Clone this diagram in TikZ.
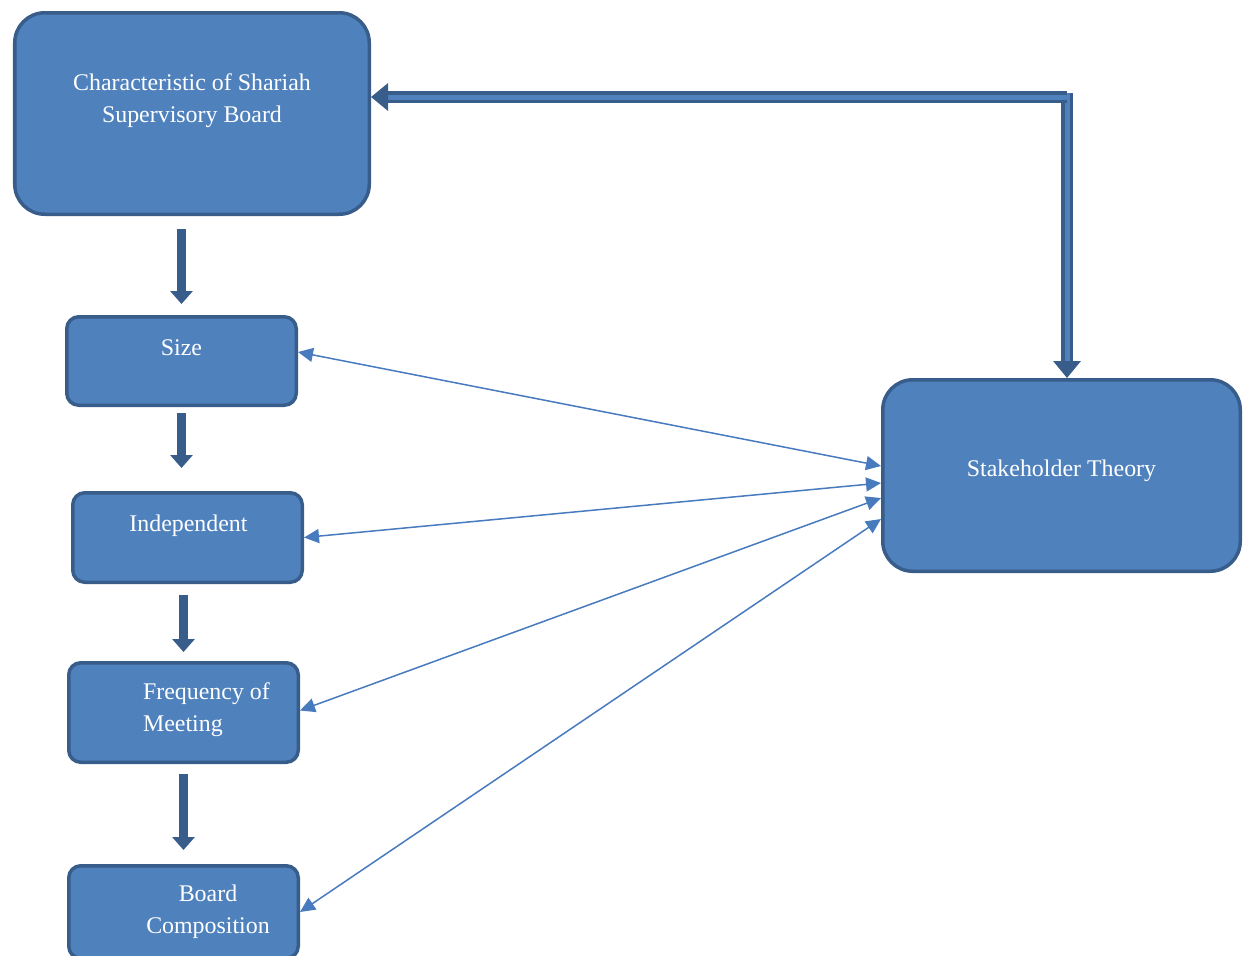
\documentclass[tikz,border=0pt]{standalone}
\usepackage{fontspec}
\setmainfont{Liberation Serif}
\usetikzlibrary{arrows.meta, positioning}
\definecolor{boxfill}{RGB}{79, 129, 189}
\definecolor{boxborder}{RGB}{56, 93, 138}
\definecolor{linkcolor}{RGB}{72, 122, 190}
\tikzset{
  box/.style={rectangle, draw=boxborder, fill=boxfill, line width=0.07cm},
  bigbox/.style={box, rounded corners=0.6cm},
  smallbox/.style={box, rounded corners=0.24cm, minimum width=4.59cm},
  boxtext/.style={text=white, font=\fontsize{13.6}{18.2}\selectfont, align=center},
  downarr/.style={-{Triangle[length=0.26cm, width=0.44cm]}, line width=0.19cm, draw=boxborder},
  dblarr/.style={-{Triangle[length=0.34cm, width=0.54cm]}, draw=boxborder, double=boxfill, line width=0.07cm, double distance=0.1cm},
  linkarr/.style={{Triangle[length=0.3cm, width=0.28cm]}-{Triangle[length=0.3cm, width=0.28cm]}, draw=linkcolor, line width=0.03cm}
}
\begin{document}
\begin{tikzpicture}

  \useasboundingbox (0,0) rectangle (24.86,-19.1);

  \node[bigbox, minimum width=7.09cm, minimum height=4.03cm,
        label={[boxtext, yshift=0.25cm]center:{Characteristic of Shariah\\Supervisory Board}}] (chr) at (3.84,-2.27) {};

  \node[smallbox, minimum height=1.77cm,
        label={[boxtext, yshift=0.26cm]center:Size}] (size) at (3.63,-7.22) {};
  \node[smallbox, minimum height=1.79cm,
        label={[boxtext, xshift=0.02cm, yshift=0.23cm]center:Independent}] (indep) at (3.75,-10.75) {};
  \node[smallbox, minimum height=1.99cm,
        label={[boxtext, align=left, xshift=0.46cm, yshift=0.06cm]center:{Frequency of\\Meeting}}] (freq) at (3.67,-14.25) {};
  \node[smallbox, minimum height=1.85cm,
        label={[boxtext, xshift=0.49cm]center:{Board\\Composition}}] (board) at (3.67,-18.24) {};

  \node[bigbox, minimum width=7.15cm, minimum height=3.83cm,
        label={[boxtext, yshift=0.09cm]center:Stakeholder Theory}] (stake) at (21.23,-9.51) {};

  \coordinate (corner) at (21.34,-1.94);

  % chain of characteristics
  \draw[downarr, shorten <=0.26cm, shorten >=0.22cm] (chr.south -| size.north) -- (size.north);
  \draw[downarr, shorten <=0.12cm, shorten >=0.46cm] (size.south) -- (size.south |- indep.north);
  \draw[downarr, shorten <=0.22cm, shorten >=0.18cm] (indep.south -| freq.north) -- (freq.north);
  \draw[downarr, shorten <=0.2cm, shorten >=0.28cm] (freq.south) -- (freq.south |- board.north);

  % theory link
  \draw[dblarr] ([yshift=0.08cm]corner) -- (corner |- stake.north);
  \draw[dblarr] (corner) -- (corner -| chr.east);

  \draw[linkarr] ([yshift=0.18cm]size.east)  -- ([yshift=0.19cm]stake.west);
  \draw[linkarr] (indep.east)                 -- ([yshift=-0.15cm]stake.west);
  \draw[linkarr] ([yshift=0.04cm]freq.east)   -- ([yshift=-0.45cm]stake.west);
  \draw[linkarr] (board.east)                 -- ([yshift=-0.87cm]stake.west);

\end{tikzpicture}
\end{document}
